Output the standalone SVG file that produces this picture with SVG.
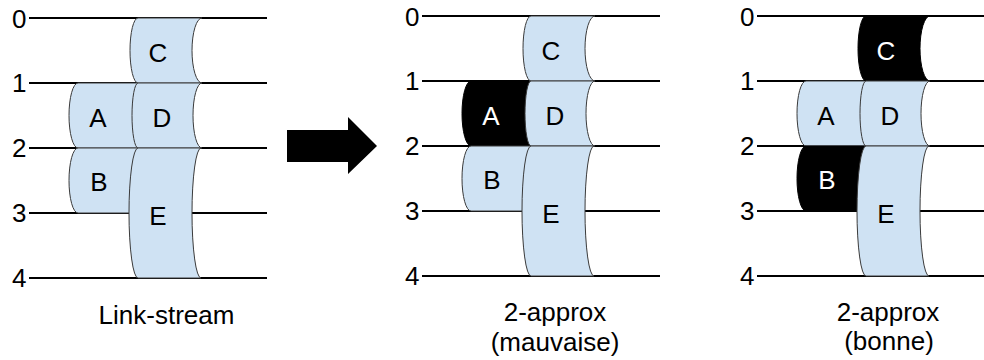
<svg xmlns="http://www.w3.org/2000/svg" width="984" height="360" viewBox="0 0 984 360">
<style>
.tl{stroke:#000;stroke-width:2;fill:none}
.lb{fill:#cfe2f3;stroke:#3a3a3a;stroke-width:1}
.bk{fill:#000;stroke:#000;stroke-width:1}
text{font-family:"Liberation Sans",Arial,sans-serif}
.dg{font-size:26px;text-anchor:end;fill:#000}
.nl{font-size:26px;text-anchor:middle;fill:#000}
.nw{font-size:26px;text-anchor:middle;fill:#fff}
.cap{font-size:26px;text-anchor:middle;fill:#000}
</style>
<defs>
<g id="axis">
<g class="tl">
<line x1="29" y1="18" x2="267" y2="18"/>
<line x1="29" y1="83" x2="267" y2="83"/>
<line x1="29" y1="148" x2="267" y2="148"/>
<line x1="29" y1="213" x2="267" y2="213"/>
<line x1="29" y1="278" x2="267" y2="278"/>
</g>
<text class="dg" x="26.5" y="28">0</text>
<text class="dg" x="26.5" y="92">1</text>
<text class="dg" x="26.5" y="157">2</text>
<text class="dg" x="26.5" y="222">3</text>
<text class="dg" x="26.5" y="287">4</text>
</g>
</defs>

<!-- Panel 1 -->
<g id="panel1">
<g id="timelines1"><use href="#axis"/></g>
<g id="p1-A"><path class="lb" d="M140 83 L78 83 A9 32.5 0 0 0 78 148 L140 148 Z"/><text class="nl" x="98" y="127">A</text></g>
<g id="p1-B"><path class="lb" d="M140 148 L78 148 A9 32.5 0 0 0 78 213 L140 213 Z"/><text class="nl" x="99" y="191">B</text></g>
<g id="p1-C"><path class="lb" d="M138 18 L202 18 A10 32.5 0 0 0 202 83 L138 83 A8 32.5 0 0 1 138 18 Z"/><text class="nl" x="158" y="62">C</text></g>
<g id="p1-D"><path class="lb" d="M138 83 L202 83 A9 32.5 0 0 0 202 148 L138 148 A6 32.5 0 0 1 138 83 Z"/><text class="nl" x="162" y="127">D</text></g>
<g id="p1-E"><path class="lb" d="M138 148 L201 148 A9 65 0 0 0 201 278 L138 278 A9 65 0 0 1 138 148 Z"/><text class="nl" x="158" y="225">E</text></g>
<text class="cap" x="166.5" y="324">Link-stream</text>
</g>

<!-- Panel 2 -->
<g id="panel2" transform="translate(393,-2)">
<g id="timelines2"><use href="#axis"/></g>
<g id="p2-A"><path class="bk" d="M140 83 L78 83 A9 32.5 0 0 0 78 148 L140 148 Z"/><text class="nw" x="98" y="127">A</text></g>
<g id="p2-B"><path class="lb" d="M140 148 L78 148 A9 32.5 0 0 0 78 213 L140 213 Z"/><text class="nl" x="99" y="191">B</text></g>
<g id="p2-C"><path class="lb" d="M138 18 L202 18 A10 32.5 0 0 0 202 83 L138 83 A8 32.5 0 0 1 138 18 Z"/><text class="nl" x="158" y="62">C</text></g>
<g id="p2-D"><path class="lb" d="M138 83 L202 83 A9 32.5 0 0 0 202 148 L138 148 A6 32.5 0 0 1 138 83 Z"/><text class="nl" x="162" y="127">D</text></g>
<g id="p2-E"><path class="lb" d="M138 148 L201 148 A9 65 0 0 0 201 278 L138 278 A9 65 0 0 1 138 148 Z"/><text class="nl" x="158" y="225">E</text></g>
<text class="cap" x="162" y="323">2-approx</text>
<text class="cap" x="162" y="353">(mauvaise)</text>
</g>

<!-- Panel 3 -->
<g id="panel3" transform="translate(728,-2)">
<g id="timelines3"><use href="#axis"/></g>
<g id="p3-A"><path class="lb" d="M140 83 L78 83 A9 32.5 0 0 0 78 148 L140 148 Z"/><text class="nl" x="98" y="127">A</text></g>
<g id="p3-B"><path class="bk" d="M140 148 L78 148 A9 32.5 0 0 0 78 213 L140 213 Z"/><text class="nw" x="99" y="191">B</text></g>
<g id="p3-C"><path class="bk" d="M138 18 L202 18 A10 32.5 0 0 0 202 83 L138 83 A8 32.5 0 0 1 138 18 Z"/><text class="nw" x="158" y="62">C</text></g>
<g id="p3-D"><path class="lb" d="M138 83 L202 83 A9 32.5 0 0 0 202 148 L138 148 A6 32.5 0 0 1 138 83 Z"/><text class="nl" x="162" y="127">D</text></g>
<g id="p3-E"><path class="lb" d="M138 148 L201 148 A9 65 0 0 0 201 278 L138 278 A9 65 0 0 1 138 148 Z"/><text class="nl" x="158" y="225">E</text></g>
<text class="cap" x="160" y="323">2-approx</text>
<text class="cap" x="161" y="352">(bonne)</text>
</g>

<g id="connectors">
<polygon points="287,130 348,130 348,117 377,146 348,174 348,162 287,162" fill="#000"/>
</g>
</svg>
